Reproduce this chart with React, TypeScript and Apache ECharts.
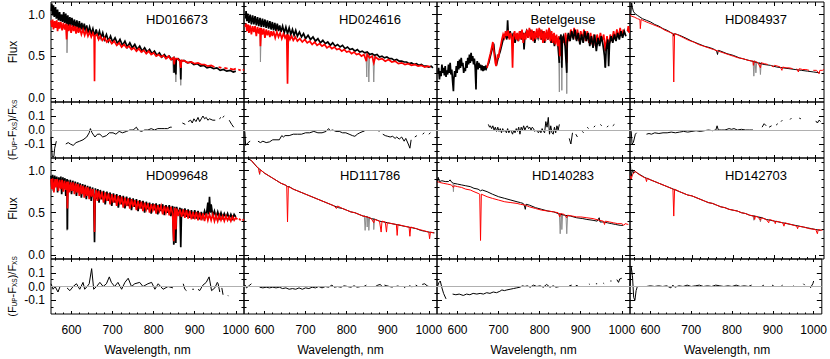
import React, { useEffect, useRef } from 'react';
import * as echarts from 'echarts';

const FONT = '"Liberation Sans", Arial, Helvetica, sans-serif';

// ---- axes ----
const X_MIN = 550;
const X_MAX = 1020;
const X_MAJOR = [600, 700, 800, 900, 1000];
const X_MINOR = [560, 580, 620, 640, 660, 680, 720, 740, 760, 780, 820, 840, 860, 880, 920, 940, 960, 980];
const FLUX_MIN = -0.05;
const FLUX_MAX = 1.15;
const FLUX_MAJOR = [0, 0.5, 1.0];
const FLUX_MINOR = [0.1, 0.2, 0.3, 0.4, 0.6, 0.7, 0.8, 0.9, 1.1];
const RES_MIN = -0.2;
const RES_MAX = 0.2;
const RES_MAJOR = [-0.1, 0, 0.1];
const RES_MINOR = [-0.15, -0.05, 0.05, 0.15];

const STARS = ['HD016673', 'HD024616', 'Betelgeuse', 'HD084937', 'HD099648', 'HD111786', 'HD140283', 'HD142703'];

// ---- HD016673 ----
const HD016673_GRAY = [[588,0.86],[589,0.54],[591,0.88],[592,'-'],[846,0.47],[848,0.30],[849,0.46],[850,'-'],[852,0.46],[854,0.19],[856,0.46],[857,'-'],[864,0.44],[866,0.15],[868,0.44]];
const HD016673_BLACK = [[551,1.04],[552,1.13],[554,0.99],[556,1.11],[558,0.97],[561,1.09],[563,0.95],[566,1.06],[568,0.93],[571,1.03],[573,0.92],[576,1.00],[578,0.91],[581,1.03],[583,0.90],[586,1.01],[588,0.88],[591,0.99],[593,0.86],[596,0.97],[598,0.86],[601,0.96],[604,0.85],[607,0.94],[610,0.84],[613,0.93],[616,0.82],[619,0.92],[622,0.81],[625,0.90],[628,0.80],[631,0.89],[634,0.79],[637,0.87],[640,0.78],[644,0.85],[648,0.77],[652,0.83],[656,0.74],[660,0.82],[664,0.74],[668,0.80],[672,0.72],[676,0.78],[680,0.70],[685,0.76],[690,0.68],[695,0.74],[700,0.67],[706,0.72],[712,0.65],[718,0.70],[724,0.63],[730,0.68],[736,0.61],[742,0.66],[748,0.60],[754,0.64],[760,0.58],[766,0.62],[772,0.56],[778,0.60],[784,0.55],[790,0.58],[796,0.53],[802,0.56],[808,0.51],[814,0.54],[820,0.49],[826,0.52],[832,0.48],[838,0.50],[844,0.46],[849,0.48],[850,0.30],[851,0.47],[854,0.28],[855,0.46],[860,0.47],[865,0.44],[866,0.22],[867,0.44],[874,0.45],[882,0.42],[890,0.43],[898,0.40],[906,0.41],[914,0.38],[922,0.39],[930,0.36],[938,0.37],[946,0.35],[954,0.36],[962,0.33],[970,0.34],[978,0.32],[986,0.33],[994,0.31],[1000,0.32]];
const HD016673_RED = [[550,0.93],[552,0.85],[554,0.94],[556,0.82],[559,0.92],[561,0.84],[564,0.93],[566,0.80],[569,0.91],[571,0.83],[574,0.91],[577,0.81],[580,0.90],[583,0.82],[586,0.89],[588,0.70],[590,0.88],[593,0.80],[596,0.88],[599,0.78],[602,0.87],[605,0.80],[608,0.86],[611,0.77],[614,0.85],[617,0.78],[620,0.84],[624,0.76],[628,0.82],[632,0.75],[636,0.81],[640,0.74],[644,0.79],[648,0.73],[652,0.78],[655,0.74],[656,0.20],[657,0.74],[662,0.76],[666,0.70],[670,0.74],[675,0.69],[680,0.72],[686,0.67],[692,0.70],[698,0.65],[704,0.68],[710,0.63],[716,0.66],[722,0.61],[728,0.64],[734,0.60],[740,0.62],[746,0.58],[752,0.60],[758,0.56],[764,0.59],[770,0.55],[776,0.57],[782,0.53],[788,0.56],[794,0.52],[800,0.54],[806,0.50],[812,0.52],[818,0.49],[824,0.51],[830,0.47],[836,0.50],[842,0.46],[848,0.48],[850,0.40],[852,0.47],[858,0.47],[864,0.44],[866,0.36],[868,0.45],[876,0.44],[884,0.42],[892,0.43],[900,0.41],[908,0.42],[916,0.40],[924,0.40],[932,0.38],[940,0.39],[948,0.37],[955,'-'],[958,0.37],[965,0.36],[968,'-'],[972,0.36],[980,0.35],[983,'-'],[986,0.35],[994,0.34],[1000,0.35],[1003,'-'],[1006,0.34],[1012,0.33],[1015,'-'],[1017,0.33],[1020,0.34]];
const HD016673_RES = [[550,-0.05],[553,-0.19],[557,-0.19],[559,-0.13],[563,-0.08],[564,'-'],[586,-0.1],[592,-0.09],[597,-0.1],[604,-0.11],[611,-0.09],[620,-0.08],[628,-0.07],[637,-0.05],[643,-0.02],[646,0.01],[650,-0.02],[657,-0.05],[663,-0.03],[669,-0.03],[676,-0.05],[685,-0.04],[692,-0.02],[701,-0.02],[708,-0.03],[716,-0.01],[724,-0.02],[734,-0.01],[742,0.0],[750,0.0],[758,0.02],[762,0.0],[770,-0.01],[778,0.0],[786,0.0],[794,0.01],[802,0.0],[810,0.01],[818,0.01],[826,0.01],[834,0.01],[840,0.02],[844,0.02],[845,'-'],[870,0.05],[877,0.04],[880,'-'],[884,0.06],[890,0.07],[894,0.05],[898,0.08],[903,0.06],[908,0.09],[912,0.06],[916,0.08],[920,0.1],[924,0.08],[928,0.09],[932,0.07],[936,0.08],[944,0.07],[950,0.07],[951,'-'],[960,0.08],[964,0.09],[965,'-'],[968,0.09],[972,0.1],[973,'-'],[984,0.07],[990,0.04],[995,0.02]];

// ---- HD024616 ----
const HD024616_GRAY = [[589,0.84],[590,0.43],[592,0.84],[593,'-'],[847,0.55],[849,0.25],[850,0.55],[851,'-'],[852,0.54],[854,0.19],[856,0.54],[857,'-'],[864,0.52],[866,0.19],[868,0.52]];
const HD024616_BLACK = [[554,0.95],[555,1.04],[557,0.92],[559,1.01],[562,0.90],[565,1.0],[568,0.88],[571,0.99],[574,0.88],[577,0.98],[580,0.87],[583,0.97],[586,0.86],[589,0.96],[592,0.85],[595,0.95],[598,0.85],[601,0.94],[604,0.84],[607,0.93],[610,0.83],[613,0.92],[616,0.82],[619,0.91],[622,0.81],[625,0.90],[628,0.80],[631,0.89],[634,0.80],[637,0.87],[640,0.79],[644,0.86],[648,0.78],[652,0.85],[656,0.77],[660,0.84],[664,0.76],[668,0.82],[672,0.75],[676,0.81],[680,0.74],[685,0.79],[690,0.73],[695,0.77],[700,0.71],[706,0.75],[712,0.70],[718,0.73],[724,0.68],[730,0.71],[736,0.66],[742,0.69],[748,0.65],[754,0.67],[760,0.63],[766,0.66],[772,0.62],[778,0.64],[784,0.61],[790,0.63],[796,0.59],[802,0.61],[808,0.58],[814,0.59],[820,0.56],[826,0.58],[832,0.55],[838,0.56],[844,0.54],[850,0.55],[856,0.52],[862,0.53],[868,0.51],[874,0.52],[880,0.49],[886,0.50],[892,0.48],[898,0.49],[904,0.47],[910,0.47],[916,0.45],[922,0.46],[928,0.44],[934,0.44],[940,0.43],[946,0.43],[952,0.41],[958,0.42],[964,0.40],[970,0.41],[976,0.39],[982,0.40],[988,0.38],[994,0.38],[1000,0.37],[1006,0.38],[1010,0.36]];
const HD024616_RED = [[553,0.85],[555,0.89],[557,0.80],[560,0.88],[562,0.78],[565,0.87],[568,0.76],[571,0.86],[574,0.79],[577,0.86],[580,0.74],[583,0.85],[586,0.77],[589,0.84],[590,0.62],[592,0.84],[595,0.76],[598,0.83],[601,0.72],[604,0.82],[607,0.75],[610,0.81],[613,0.73],[616,0.80],[619,0.74],[622,0.80],[626,0.72],[630,0.79],[634,0.73],[638,0.78],[642,0.71],[646,0.77],[650,0.72],[654,0.76],[656,0.17],[658,0.76],[662,0.70],[666,0.74],[670,0.69],[675,0.73],[680,0.68],[686,0.71],[692,0.67],[698,0.70],[704,0.66],[710,0.68],[716,0.64],[722,0.67],[728,0.63],[734,0.65],[740,0.62],[746,0.64],[752,0.60],[758,0.62],[764,0.59],[770,0.61],[776,0.58],[782,0.59],[788,0.56],[794,0.58],[800,0.55],[806,0.56],[812,0.53],[818,0.55],[824,0.52],[830,0.53],[836,0.50],[842,0.52],[848,0.44],[850,0.52],[856,0.48],[862,0.50],[866,0.42],[870,0.49],[878,0.46],[886,0.47],[894,0.44],[902,0.46],[910,0.43],[918,0.44],[926,0.41],[934,0.42],[942,0.40],[950,0.41],[958,0.39],[966,0.40],[974,0.38],[982,0.39],[990,0.37],[998,0.38],[1004,0.37]];
const HD024616_RES = [[552,-0.01],[554,-0.11],[557,-0.1],[560,-0.09],[565,-0.08],[566,'-'],[584,-0.08],[590,-0.09],[596,-0.08],[604,-0.09],[612,-0.085],[620,-0.07],[628,-0.07],[636,-0.07],[642,-0.04],[646,-0.05],[650,-0.04],[660,-0.04],[670,-0.03],[680,-0.03],[690,-0.03],[700,-0.02],[710,-0.02],[720,-0.01],[730,-0.02],[740,-0.02],[750,-0.01],[756,0.01],[760,-0.005],[766,0.0],[774,-0.01],[782,-0.01],[790,-0.02],[798,-0.02],[806,-0.03],[814,-0.04],[820,-0.045],[826,-0.03],[832,-0.02],[840,-0.01],[843,-0.01],[844,'-'],[878,-0.01],[881,-0.005],[882,'-'],[888,-0.03],[894,-0.04],[900,-0.045],[906,-0.05],[912,-0.045],[918,-0.06],[922,-0.05],[928,-0.065],[934,-0.05],[940,-0.08],[944,-0.06],[950,-0.1],[954,-0.13],[957,-0.07],[958,'-'],[966,-0.05],[971,-0.04],[972,'-'],[985,-0.03],[989,-0.02],[990,'-'],[1000,-0.03],[1004,-0.02]];

// ---- Betelgeuse ----
const BETELGEUSE_GRAY = [[846,0.66],[848,0.07],[849,0.66],[850,'-'],[853,0.70],[854,0.09],[855,0.70],[856,'-'],[865,0.62],[866,0.05],[867,0.62],[868,'-'],[957,0.60],[958,0.37],[959,0.60]];
const BETELGEUSE_BLACK = [[552,0.30],[554,0.36],[556,0.22],[558,0.32],[560,0.26],[562,0.40],[564,0.30],[566,0.36],[568,0.27],[570,0.38],[572,0.25],[574,0.33],[576,0.28],[578,0.40],[580,0.30],[582,0.42],[584,0.28],[586,0.34],[588,0.20],[590,0.08],[591,0.22],[593,0.32],[595,0.25],[597,0.38],[599,0.30],[601,0.44],[603,0.34],[605,0.46],[607,0.36],[609,0.48],[611,0.38],[613,0.42],[615,0.30],[617,0.36],[619,0.32],[621,0.44],[623,0.36],[625,0.48],[627,0.40],[629,0.52],[631,0.42],[633,0.54],[635,0.44],[637,0.50],[639,0.40],[641,0.47],[643,0.36],[645,0.10],[646,0.38],[648,0.44],[650,0.34],[652,0.42],[654,0.36],[656,0.40],[658,0.33],[660,0.39],[662,0.32],[664,0.38],[666,0.33],[668,0.37],[670,0.35],[672,0.38],[676,0.42],[680,0.50],[684,0.58],[688,0.65],[690,0.55],[692,0.48],[696,0.42],[700,0.50],[704,0.56],[708,0.64],[712,0.72],[716,0.76],[720,0.70],[722,0.93],[724,0.72],[728,0.80],[732,0.70],[736,0.78],[740,0.66],[744,0.76],[748,0.68],[752,0.80],[756,0.70],[760,0.78],[762,0.58],[764,0.74],[768,0.80],[772,0.72],[776,0.82],[780,0.70],[784,0.80],[788,0.66],[792,0.78],[796,0.72],[800,0.82],[804,0.70],[808,0.80],[812,0.66],[816,0.78],[820,0.70],[824,0.82],[828,0.66],[832,0.76],[836,0.62],[840,0.74],[844,0.66],[848,0.42]];
const BETELGEUSE_BLACK_TOP = [[849,0.70],[852,0.76],[854,0.36],[855,0.70],[858,0.74],[862,0.62],[866,0.30],[867,0.66],[870,0.78],[874,0.68],[878,0.80],[882,0.70],[886,0.82],[890,0.68],[894,0.78],[898,0.64],[902,0.76],[906,0.66],[910,0.80],[914,0.68],[918,0.78],[922,0.62],[926,0.74],[930,0.60],[934,0.76],[938,0.56],[942,0.72],[946,0.62],[950,0.74],[954,0.64],[958,0.50],[960,0.36],[962,0.58],[966,0.70],[968,0.38],[970,0.64],[974,0.74],[978,0.66],[982,0.76],[986,0.68],[990,0.78],[994,0.70],[998,0.80],[1002,0.72],[1006,0.80],[1010,0.74]];
const BETELGEUSE_RED = [[672,0.36],[676,0.45],[680,0.53],[683,0.60],[686,0.67],[688,0.58],[690,0.50],[692,0.42],[694,0.38],[696,0.46],[698,0.52],[700,0.48],[702,0.56],[705,0.62],[708,0.70],[711,0.76],[714,0.72],[717,0.80],[720,0.74],[723,0.81],[726,0.70],[729,0.78],[732,0.72],[734,0.36],[736,0.74],[739,0.80],[742,0.70],[745,0.78],[748,0.68],[751,0.80],[754,0.70],[757,0.82],[760,0.66],[763,0.78],[766,0.70],[769,0.82],[772,0.72],[775,0.84],[778,0.70],[781,0.82],[784,0.68],[787,0.80],[790,0.70],[793,0.83],[796,0.72],[799,0.84],[802,0.70],[805,0.82],[808,0.66],[811,0.80],[814,0.68],[817,0.82],[820,0.70],[823,0.84],[826,0.68],[829,0.80],[832,0.66],[835,0.78],[838,0.64],[841,0.76],[844,0.62],[847,0.74],[849,0.50],[851,0.72],[854,0.45],[856,0.74],[860,0.66],[863,0.78],[866,0.42],[868,0.76],[872,0.68],[876,0.82],[880,0.72],[884,0.84],[888,0.70],[892,0.82],[896,0.68],[900,0.80],[904,0.70],[908,0.82],[912,0.68],[916,0.80],[920,0.66],[924,0.78],[928,0.64],[932,0.76],[936,0.62],[940,0.76],[944,0.66],[948,0.78],[952,0.68],[956,0.76],[960,0.56],[964,0.74],[968,0.60],[972,0.76],[976,0.68],[980,0.80],[984,0.70],[988,0.82],[992,0.72],[996,0.84],[1000,0.74],[1004,0.82],[1008,'-'],[1014,0.80],[1016,0.86],[1018,0.78]];
const BETELGEUSE_RES = [[675,0.04],[678,0.02],[680,0.03],[683,0.01],[686,0.03],[689,0.0],[692,0.02],[695,-0.01],[698,0.02],[701,-0.01],[704,0.01],[707,-0.02],[710,0.01],[713,-0.01],[716,0.0],[719,-0.02],[722,0.01],[725,-0.02],[728,0.0],[731,-0.01],[734,-0.03],[737,0.0],[740,-0.02],[743,0.01],[746,-0.01],[749,0.02],[752,-0.03],[755,0.02],[758,0.0],[761,0.03],[764,0.0],[767,0.02],[770,0.03],[773,0.01],[776,0.02],[779,0.0],[782,0.02],[785,0.01],[788,-0.01],[791,0.0],[794,-0.01],[797,-0.02],[800,0.0],[803,-0.02],[806,0.01],[809,-0.01],[812,-0.02],[815,0.06],[818,0.02],[821,0.09],[824,-0.03],[827,0.03],[830,-0.02],[833,-0.03],[836,0.02],[839,-0.02],[842,0.03],[845,0.0],[848,0.04],[849,'-'],[872,-0.06],[876,-0.1],[880,-0.02],[881,'-'],[888,-0.03],[892,-0.05],[893,'-'],[904,-0.01],[907,-0.02],[908,'-'],[916,0.02],[919,0.01],[920,'-'],[932,0.02],[935,0.03],[936,'-'],[948,0.04],[951,0.03],[952,'-'],[964,0.02],[967,0.03],[968,'-'],[978,0.03],[982,0.04]];

// ---- HD084937 ----
const HD084937_GRAY = [[848,0.45],[850,0.26],[852,0.45],[853,'-'],[853,0.44],[855,0.30],[857,0.44],[858,'-'],[864,0.43],[866,0.28],[868,0.43]];
const HD084937_BLACK = [[552,1.0],[554,1.14],[556,1.08],[558,1.04],[562,1.01],[568,0.99],[574,0.97],[580,0.95],[590,0.93],[600,0.91],[610,0.88],[620,0.86],[630,0.83],[640,0.81],[650,0.78],[655,0.77],[656,0.74],[658,0.77],[665,0.76],[675,0.74],[688,0.71],[700,0.68],[715,0.65],[730,0.62],[745,0.60],[755,0.58],[760,0.56],[762,0.52],[764,0.57],[770,0.56],[785,0.53],[800,0.51],[815,0.48],[830,0.46],[845,0.44],[860,0.42],[875,0.40],[890,0.39],[905,0.37],[920,0.36],[935,0.35],[950,0.34],[965,0.33],[980,0.32],[995,0.31],[1010,0.30]];
const HD084937_RED = [[550,1.0],[553,0.98],[560,0.97],[568,0.95],[574,0.94],[575,0.83],[577,0.94],[585,0.92],[595,0.90],[605,0.88],[615,0.86],[625,0.84],[635,0.81],[645,0.79],[654,0.77],[656,0.19],[658,0.77],[668,0.75],[680,0.72],[692,0.69],[704,0.67],[716,0.64],[728,0.62],[740,0.60],[752,0.58],[764,0.56],[776,0.54],[788,0.52],[800,0.50],[812,0.48],[824,0.47],[836,0.45],[848,0.44],[849,0.39],[851,0.44],[860,0.42],[866,0.36],[868,0.42],[876,0.41],[884,0.40],[888,'-'],[892,0.39],[897,0.37],[900,0.39],[908,0.38],[914,0.37],[918,0.33],[920,0.37],[928,0.36],[936,0.36],[944,0.35],[950,'-'],[954,0.35],[958,0.31],[960,0.35],[968,0.34],[976,0.34],[984,0.33],[990,'-'],[994,0.33],[1002,0.33],[1008,0.29],[1010,0.33],[1016,0.33],[1020,0.34]];
const HD084937_RES = [[551,0.0],[553,-0.01],[555,-0.1],[558,-0.09],[563,-0.03],[566,-0.02],[567,'-'],[590,-0.03],[596,-0.025],[602,-0.03],[610,-0.02],[620,-0.025],[630,-0.02],[640,-0.02],[650,-0.015],[660,-0.02],[670,-0.015],[680,-0.01],[690,-0.015],[700,-0.01],[710,-0.005],[720,-0.01],[730,-0.005],[740,0.0],[750,-0.005],[758,0.0],[761,0.03],[764,0.0],[772,0.0],[780,0.0],[790,0.01],[796,0.005],[802,0.01],[810,0.0],[820,0.005],[830,0.0],[840,0.0],[848,0.0],[849,'-'],[870,0.02],[875,0.045],[880,0.03],[881,'-'],[887,0.02],[893,0.03],[894,'-'],[904,0.035],[908,0.045],[909,'-'],[916,0.06],[919,0.07],[920,'-'],[938,0.075],[941,0.085],[942,'-'],[960,0.085],[964,0.08],[965,'-'],[1000,0.065],[1004,0.05],[1008,0.07],[1012,0.06]];

// ---- HD099648 ----
const HD099648_GRAY = [[588,0.80],[589,0.29],[590,0.80],[591,'-'],[848,0.50],[850,0.13],[852,0.50]];
const HD099648_BLACK = [[550,0.94],[552,0.80],[554,0.95],[556,0.76],[559,0.94],[561,0.82],[564,0.93],[566,0.74],[569,0.92],[571,0.80],[574,0.93],[576,0.72],[579,0.92],[581,0.79],[584,0.91],[586,0.70],[589,0.90],[590,0.30],[591,0.89],[594,0.75],[597,0.89],[600,0.72],[603,0.88],[606,0.76],[609,0.87],[612,0.70],[615,0.86],[618,0.74],[621,0.85],[624,0.68],[627,0.84],[630,0.72],[633,0.83],[636,0.66],[639,0.82],[642,0.70],[645,0.81],[648,0.64],[651,0.80],[654,0.68],[656,0.15],[658,0.79],[661,0.66],[664,0.78],[667,0.62],[670,0.77],[674,0.66],[678,0.76],[682,0.60],[686,0.75],[690,0.64],[694,0.74],[698,0.58],[702,0.73],[706,0.62],[710,0.72],[714,0.56],[718,0.71],[722,0.60],[726,0.70],[730,0.55],[734,0.69],[738,0.58],[742,0.68],[746,0.53],[750,0.67],[754,0.57],[758,0.66],[762,0.52],[766,0.65],[770,0.55],[774,0.64],[778,0.50],[782,0.63],[786,0.54],[790,0.62],[794,0.49],[798,0.61],[802,0.53],[806,0.61],[810,0.48],[814,0.60],[818,0.52],[822,0.60],[826,0.47],[830,0.59],[834,0.50],[838,0.59],[842,0.46],[846,0.58],[849,0.12],[851,0.57],[854,0.14],[856,0.57],[860,0.48],[864,0.56],[866,0.09],[868,0.55],[872,0.46],[876,0.55],[880,0.45],[884,0.54],[888,0.44],[892,0.53],[896,0.43],[900,0.53],[904,0.43],[908,0.52],[912,0.42],[916,0.51],[920,0.44],[924,0.52],[928,0.45],[932,0.62],[934,0.48],[936,0.69],[938,0.50],[940,0.60],[944,0.46],[948,0.52],[952,0.44],[956,0.51],[960,0.44],[964,0.50],[968,0.44],[972,0.49],[976,0.44],[980,0.49],[984,0.43],[988,0.48],[992,0.43],[996,0.48],[1000,0.45]];
const HD099648_RED = [[550,0.90],[552,0.78],[554,0.91],[557,0.74],[560,0.90],[562,0.80],[565,0.90],[568,0.76],[571,0.89],[574,0.78],[577,0.89],[580,0.75],[583,0.88],[586,0.77],[589,0.87],[590,0.55],[592,0.87],[595,0.74],[598,0.86],[601,0.76],[604,0.86],[607,0.72],[610,0.85],[613,0.74],[616,0.84],[619,0.70],[622,0.83],[625,0.72],[628,0.82],[631,0.68],[634,0.81],[637,0.70],[640,0.80],[643,0.66],[646,0.79],[649,0.69],[652,0.78],[655,0.66],[656,0.27],[657,0.66],[660,0.77],[663,0.64],[666,0.76],[670,0.66],[674,0.75],[678,0.62],[682,0.74],[686,0.64],[690,0.73],[694,0.60],[698,0.72],[702,0.62],[706,0.71],[710,0.58],[714,0.70],[718,0.60],[722,0.69],[726,0.56],[730,0.68],[734,0.58],[738,0.67],[742,0.55],[746,0.66],[750,0.57],[754,0.65],[758,0.53],[762,0.64],[766,0.55],[770,0.63],[774,0.52],[778,0.62],[782,0.54],[786,0.61],[790,0.50],[794,0.60],[798,0.53],[802,0.60],[806,0.49],[810,0.59],[814,0.52],[818,0.58],[822,0.48],[826,0.58],[830,0.50],[834,0.57],[838,0.47],[842,0.57],[846,0.49],[849,0.16],[851,0.56],[854,0.30],[856,0.55],[860,0.46],[864,0.54],[868,0.45],[872,0.54],[876,0.44],[880,0.53],[884,0.43],[888,0.52],[892,0.42],[896,0.51],[900,0.42],[904,0.51],[908,0.41],[912,0.50],[916,0.41],[920,0.49],[924,0.40],[928,0.49],[932,0.41],[936,0.48],[940,0.41],[944,0.48],[948,0.40],[952,0.47],[956,0.40],[960,0.47],[964,0.41],[968,0.46],[972,0.40],[976,0.46],[980,0.41],[984,0.45],[988,0.40],[992,0.45],[996,0.41],[1000,0.44],[1004,0.42],[1006,'-'],[1008,0.43],[1012,0.41],[1014,'-'],[1016,0.42],[1020,0.41]];
const HD099648_RES = [[550,0.02],[555,-0.02],[560,0.0],[567,-0.04],[572,0.0],[573,'-'],[589,-0.01],[596,-0.03],[604,0.0],[612,0.02],[620,-0.02],[628,0.03],[632,-0.02],[638,0.0],[643,0.02],[649,0.13],[654,-0.02],[661,0.0],[669,0.03],[677,0.0],[685,0.02],[692,0.07],[697,0.03],[705,0.0],[713,0.03],[722,-0.02],[730,0.03],[738,0.06],[746,0.0],[754,0.02],[766,0.03],[774,0.0],[786,0.02],[795,0.03],[803,-0.02],[811,0.02],[823,-0.02],[835,0.0],[847,-0.01],[848,'-'],[872,0.02],[876,-0.02],[880,-0.03],[881,'-'],[894,-0.02],[898,-0.02],[899,'-'],[908,-0.02],[912,-0.03],[920,0.01],[928,0.03],[935,0.07],[941,-0.03],[949,-0.01],[955,0.03],[957,0.02],[961,-0.04],[962,'-'],[966,-0.01],[969,-0.06],[970,'-'],[981,-0.065],[982,-0.07]];

// ---- HD111786 ----
const HD111786_GRAY = [[587,1.0],[588,0.95],[589,1.0],[590,'-'],[843,0.47],[845,0.29],[847,0.46],[848,'-'],[849,0.46],[850,0.33],[851,0.45],[852,'-'],[853,0.45],[854,0.29],[856,0.45],[857,'-'],[865,0.43],[866,0.30],[868,0.43]];
const HD111786_BLACK = [[560,1.14],[568,1.12],[575,1.08],[582,1.04],[590,1.01],[600,0.97],[610,0.94],[620,0.91],[630,0.88],[640,0.85],[650,0.83],[656,0.81],[660,0.81],[670,0.78],[680,0.76],[690,0.74],[700,0.72],[710,0.70],[720,0.68],[730,0.66],[740,0.64],[750,0.62],[760,0.60],[770,0.58],[780,0.56],[790,0.55],[800,0.53],[810,0.51],[820,0.50],[830,0.48],[840,0.46],[850,0.45],[860,0.43],[870,0.42],[880,0.40],[890,0.39],[900,0.38],[910,0.37],[920,0.36],[930,0.35],[940,0.34],[950,0.33],[960,0.32],[970,0.31],[980,0.29],[990,0.28],[1000,0.27],[1014,0.26]];
const HD111786_RED = [[566,1.13],[575,1.08],[585,1.03],[588,0.96],[590,1.01],[600,0.97],[610,0.94],[620,0.91],[630,0.88],[640,0.85],[650,0.83],[654,0.82],[656,0.39],[658,0.81],[670,0.78],[680,0.76],[690,0.74],[700,0.72],[710,0.70],[720,0.68],[730,0.66],[740,0.64],[750,0.62],[760,0.60],[770,0.58],[775,0.55],[778,0.58],[790,0.55],[800,0.53],[810,0.51],[820,0.50],[830,0.48],[840,0.46],[850,0.45],[860,0.43],[866,0.38],[868,0.42],[880,0.40],[884,0.27],[886,0.40],[894,0.39],[897,0.27],[899,0.38],[910,0.37],[921,0.36],[923,0.23],[925,0.36],[940,0.34],[952,0.33],[954,0.22],[956,0.33],[970,0.31],[985,0.29],[1000,0.27],[1002,0.19],[1004,0.27],[1012,0.26]];
const HD111786_RES = [[550,0.0],[553,0.01],[556,-0.01],[560,0.0],[564,0.01],[568,0.02],[569,'-'],[588,-0.005],[596,-0.01],[604,-0.005],[612,-0.01],[620,-0.005],[628,-0.01],[636,-0.005],[644,-0.015],[652,-0.01],[660,-0.02],[668,-0.015],[676,-0.02],[684,-0.01],[692,-0.02],[700,-0.01],[708,-0.015],[716,-0.005],[724,-0.01],[732,0.0],[740,-0.01],[748,0.0],[756,-0.005],[764,0.01],[770,-0.005],[778,0.0],[786,-0.005],[794,0.005],[802,0.0],[810,-0.005],[818,0.005],[826,-0.005],[834,0.0],[842,0.0],[848,0.01],[849,'-'],[870,0.0],[876,0.01],[882,0.015],[886,0.0],[887,'-'],[892,0.01],[898,0.005],[904,0.0],[912,-0.005],[913,'-'],[920,0.0],[926,0.005],[927,'-'],[940,-0.01],[944,0.0],[945,'-'],[953,0.01],[958,-0.005],[959,'-'],[968,0.01],[972,0.005],[973,'-'],[984,0.015],[990,0.02],[996,0.005],[1000,0.0]];

// ---- HD140283 ----
const HD140283_GRAY = [[589,0.84],[590,0.75],[591,0.84],[592,'-'],[848,0.49],[850,0.25],[852,0.49],[853,'-'],[853,0.49],[854,0.30],[856,0.48],[857,'-'],[864,0.47],[866,0.25],[868,0.47]];
const HD140283_BLACK = [[551,0.86],[553,0.92],[556,0.87],[562,0.88],[570,0.87],[578,0.87],[582,0.89],[586,0.86],[590,0.85],[600,0.84],[610,0.83],[620,0.82],[631,0.81],[640,0.79],[650,0.78],[656,0.76],[660,0.77],[672,0.75],[685,0.72],[700,0.69],[715,0.67],[730,0.65],[745,0.63],[753,0.62],[760,0.61],[763,0.58],[765,0.54],[767,0.60],[775,0.59],[790,0.56],[805,0.54],[820,0.52],[834,0.51],[845,0.49],[860,0.47],[875,0.46],[890,0.44],[905,0.43],[915,0.42],[930,0.41],[940,0.40],[945,0.44],[947,0.39],[955,0.39],[965,0.38],[975,0.37],[985,0.36],[996,0.35],[1003,0.35]];
const HD140283_RED = [[551,0.87],[556,0.86],[565,0.85],[575,0.84],[585,0.83],[590,0.80],[592,0.82],[600,0.81],[610,0.80],[620,0.78],[631,0.77],[640,0.75],[650,0.73],[654,0.72],[656,0.17],[658,0.72],[672,0.69],[685,0.67],[700,0.65],[715,0.63],[730,0.62],[745,0.61],[753,0.60],[765,0.59],[775,0.57],[790,0.55],[805,0.53],[820,0.52],[834,0.51],[845,0.50],[849,0.45],[851,0.49],[860,0.48],[866,0.44],[868,0.47],[880,0.46],[890,0.45],[900,0.45],[915,0.44],[930,0.43],[945,0.41],[955,0.40],[958,0.36],[960,0.40],[970,0.39],[980,0.38],[990,0.37],[1000,0.37],[1005,0.35],[1008,0.37],[1016,0.36]];
const HD140283_RES = [[551,0.0],[555,0.03],[558,0.04],[562,-0.01],[566,-0.05],[572,-0.09],[573,'-'],[588,-0.055],[596,-0.06],[604,-0.055],[614,-0.065],[622,-0.055],[630,-0.06],[638,-0.05],[647,-0.055],[655,-0.05],[663,-0.055],[671,-0.045],[679,-0.05],[687,-0.04],[695,-0.045],[703,-0.035],[708,-0.025],[714,-0.03],[720,-0.025],[728,-0.02],[736,-0.015],[744,-0.01],[752,-0.005],[758,0.005],[764,0.0],[770,0.005],[777,-0.005],[785,0.01],[793,0.0],[801,0.005],[809,-0.005],[817,0.015],[825,-0.005],[833,0.005],[840,-0.005],[848,0.0],[849,'-'],[872,0.005],[878,0.01],[879,'-'],[888,0.008],[893,0.005],[894,'-'],[905,0.01],[906,'-'],[920,0.02],[922,0.015],[923,'-'],[937,0.02],[940,0.02],[941,'-'],[955,0.025],[957,0.02],[958,'-'],[972,0.04],[975,0.04],[976,'-'],[988,0.05],[992,0.03],[995,0.055],[1000,0.06]];

// ---- HD142703 ----
const HD142703_GRAY = [[848,0.47],[850,0.41],[852,0.47],[853,'-'],[864,0.45],[866,0.39],[868,0.45]];
const HD142703_BLACK = [[551,1.08],[553,0.93],[556,1.01],[559,0.97],[562,0.99],[568,0.97],[575,0.95],[585,0.92],[590,0.91],[600,0.89],[610,0.87],[620,0.85],[630,0.83],[640,0.81],[650,0.79],[660,0.77],[670,0.75],[680,0.73],[690,0.71],[700,0.70],[710,0.68],[720,0.66],[730,0.64],[740,0.62],[750,0.61],[760,0.59],[770,0.57],[780,0.56],[790,0.54],[800,0.53],[810,0.52],[820,0.50],[830,0.49],[840,0.47],[850,0.46],[860,0.45],[870,0.44],[880,0.42],[890,0.41],[900,0.40],[910,0.39],[920,0.38],[930,0.37],[940,0.36],[950,0.35],[960,0.34],[970,0.33],[980,0.32],[990,0.31],[1000,0.30],[1012,0.29]];
const HD142703_RED = [[550,0.94],[553,0.90],[556,0.95],[560,0.98],[564,0.99],[570,0.96],[580,0.93],[588,0.91],[590,0.87],[592,0.91],[600,0.89],[610,0.87],[620,0.85],[630,0.83],[640,0.81],[650,0.79],[654,0.78],[656,0.46],[658,0.78],[670,0.75],[680,0.73],[690,0.71],[700,0.70],[710,0.68],[720,0.66],[730,0.64],[740,0.62],[750,0.61],[760,0.59],[770,0.57],[780,0.56],[790,0.54],[800,0.53],[810,0.52],[820,0.50],[830,0.49],[840,0.47],[850,0.46],[852,0.42],[854,0.46],[860,0.45],[866,0.41],[868,0.44],[880,0.42],[886,0.38],[888,0.42],[900,0.40],[902,0.37],[904,0.40],[920,0.38],[923,0.34],[925,0.38],[940,0.36],[954,0.34],[956,0.31],[958,0.34],[970,0.33],[985,0.31],[1000,0.30],[1004,0.25],[1006,0.30],[1016,0.29]];
const HD142703_RES = [[550,0.0],[553,0.14],[556,0.08],[559,-0.08],[562,-0.1],[565,-0.03],[568,0.0],[569,'-'],[590,0.0],[600,0.005],[610,0.0],[620,0.005],[630,0.0],[640,0.005],[650,-0.01],[655,0.01],[660,-0.005],[670,0.005],[680,0.0],[690,0.01],[700,0.0],[710,0.005],[720,0.01],[730,0.0],[740,0.005],[750,0.0],[760,0.01],[770,0.005],[780,0.0],[790,0.005],[800,0.0],[810,0.01],[820,0.0],[830,0.005],[840,0.0],[848,0.01],[849,'-'],[872,0.0],[878,0.01],[879,'-'],[898,0.01],[902,0.005],[903,'-'],[920,0.0],[924,0.01],[925,'-'],[950,0.005],[953,0.0],[954,'-'],[975,0.02],[978,0.01],[979,'-'],[992,-0.01],[998,0.02],[1000,0.04]];

const PANELS = [
  { gray: HD016673_GRAY, black: HD016673_BLACK, red: HD016673_RED, blackTop: null, res: HD016673_RES, dense: true },
  { gray: HD024616_GRAY, black: HD024616_BLACK, red: HD024616_RED, blackTop: null, res: HD024616_RES, dense: true },
  { gray: BETELGEUSE_GRAY, black: BETELGEUSE_BLACK, red: BETELGEUSE_RED, blackTop: BETELGEUSE_BLACK_TOP, res: BETELGEUSE_RES, dense: true },
  { gray: HD084937_GRAY, black: HD084937_BLACK, red: HD084937_RED, blackTop: null, res: HD084937_RES, dense: false },
  { gray: HD099648_GRAY, black: HD099648_BLACK, red: HD099648_RED, blackTop: null, res: HD099648_RES, dense: true },
  { gray: HD111786_GRAY, black: HD111786_BLACK, red: HD111786_RED, blackTop: null, res: HD111786_RES, dense: false },
  { gray: HD140283_GRAY, black: HD140283_BLACK, red: HD140283_RED, blackTop: null, res: HD140283_RES, dense: false },
  { gray: HD142703_GRAY, black: HD142703_BLACK, red: HD142703_RED, blackTop: null, res: HD142703_RES, dense: false },
];

// ---- layout (pixels) ----
const COL_EDGES = [51, 244, 437, 630, 824];
const MAIN_ROWS = [[2, 102], [158, 259]];
const RES_ROWS = [[102, 158], [259, 314]];

function xAx(gridIndex: number, position: string, values: number[], len: number, labels: boolean) {
  return {
    type: 'value', gridIndex, position, min: X_MIN, max: X_MAX,
    axisLine: { show: false, onZero: false },
    splitLine: { show: false },
    axisTick: { show: true, inside: true, length: len, customValues: values, lineStyle: { color: '#000', width: 1 } },
    axisLabel: labels
      ? { show: true, customValues: X_MAJOR, margin: 10, color: '#000', fontSize: 12, fontFamily: FONT, formatter: (v: number) => String(Math.round(v)) }
      : { show: false },
  };
}

function yAx(gridIndex: number, position: string, mn: number, mx: number, values: number[], len: number, labels: number[] | null) {
  return {
    type: 'value', gridIndex, position, min: mn, max: mx,
    axisLine: { show: false, onZero: false },
    splitLine: { show: false },
    axisTick: { show: true, inside: true, length: len, customValues: values, lineStyle: { color: '#000', width: 1 } },
    axisLabel: labels
      ? { show: true, customValues: labels, margin: 6, color: '#000', fontSize: 12, fontFamily: FONT, formatter: (v: number) => v.toFixed(1) }
      : { show: false },
  };
}

function lineSeries(xi: number, yi: number, data: any[], color: string, width: number, extra: any = {}) {
  return {
    type: 'line', xAxisIndex: xi, yAxisIndex: yi, data,
    showSymbol: false, symbol: 'none', connectNulls: false, silent: true, animation: false,
    lineStyle: { color, width, join: 'miter' }, itemStyle: { color },
    ...extra,
  };
}

function buildOption() {
  const grid: any[] = [];
  const xAxis: any[] = [];
  const yAxis: any[] = [];
  const series: any[] = [];
  const graphic: any[] = [];

  PANELS.forEach((p, i) => {
    const r = Math.floor(i / 4);
    const c = i % 4;
    const left = COL_EDGES[c];
    const width = COL_EDGES[c + 1] - COL_EDGES[c];
    [true, false].forEach((isMain) => {
      const g = grid.length;
      const [top, bottom] = isMain ? MAIN_ROWS[r] : RES_ROWS[r];
      grid.push({ left, top, width, height: bottom - top, show: true, borderColor: '#000', borderWidth: 1, backgroundColor: 'transparent' });
      const xLen = isMain ? 4 : 3;
      const showX = !isMain && r === 1;
      xAxis.push(
        xAx(g, 'bottom', X_MAJOR, xLen, showX),
        xAx(g, 'bottom', X_MINOR, xLen / 2, false),
        xAx(g, 'top', X_MAJOR, xLen, false),
        xAx(g, 'top', X_MINOR, xLen / 2, false),
      );
      const mn = isMain ? FLUX_MIN : RES_MIN;
      const mx = isMain ? FLUX_MAX : RES_MAX;
      const maj = isMain ? FLUX_MAJOR : RES_MAJOR;
      const mnr = isMain ? FLUX_MINOR : RES_MINOR;
      yAxis.push(
        yAx(g, 'left', mn, mx, maj, 5, c === 0 ? maj : null),
        yAx(g, 'left', mn, mx, mnr, 2.5, null),
        yAx(g, 'right', mn, mx, maj, 5, null),
        yAx(g, 'right', mn, mx, mnr, 2.5, null),
      );
      const ai = g * 4;
      if (isMain) {
        const w = p.dense ? 1.7 : 1;
        series.push(lineSeries(ai, ai, p.gray, '#8e8e8e', 1));
        series.push(lineSeries(ai, ai, p.black, '#000000', w));
        series.push(lineSeries(ai, ai, p.red, '#ff0000', w));
        if (p.blackTop) series.push(lineSeries(ai, ai, p.blackTop, '#000000', w));
        graphic.push({
          type: 'text', x: left + 126, y: top + 17, silent: true,
          style: { text: STARS[i], fill: '#000', font: `13px ${FONT}`, align: 'center', verticalAlign: 'middle', textAlign: 'center', textVerticalAlign: 'middle' },
        });
      } else {
        series.push(lineSeries(ai, ai, p.res, '#000000', 1, {
          markLine: {
            silent: true, symbol: ['none', 'none'], animation: false,
            label: { show: false },
            lineStyle: { color: '#b0b0b0', type: 'solid', width: 1 },
            data: [{ yAxis: 0 }],
          },
        }));
      }
    });
  });

  // axis titles
  [0, 1].forEach((r) => {
    const [mt, mb] = MAIN_ROWS[r];
    const [rt, rb] = RES_ROWS[r];
    graphic.push({
      type: 'text', x: 12.5, y: (mt + mb) / 2, rotation: Math.PI / 2, silent: true,
      style: { text: 'Flux', fill: '#000', font: `12px ${FONT}`, align: 'center', verticalAlign: 'middle', textAlign: 'center', textVerticalAlign: 'middle' },
    });
    graphic.push({
      type: 'text', x: 12, y: (rt + rb) / 2, rotation: Math.PI / 2, silent: true,
      style: {
        text: '(F{s|UP}-F{s|XS})/F{s|XS}',
        fill: '#000', fontSize: 11, fontFamily: FONT,
        align: 'center', verticalAlign: 'middle', textAlign: 'center', textVerticalAlign: 'middle',
        rich: { s: { fontSize: 6.5, fontFamily: FONT, fill: '#000', verticalAlign: 'bottom', padding: [4, 0, 0, 0] } },
      },
    });
  });
  for (let c = 0; c < 4; c++) {
    graphic.push({
      type: 'text', x: (COL_EDGES[c] + COL_EDGES[c + 1]) / 2, y: 350, silent: true,
      style: { text: 'Wavelength, nm', fill: '#000', font: `12px ${FONT}`, align: 'center', verticalAlign: 'middle', textAlign: 'center', textVerticalAlign: 'middle' },
    });
  }

  return { animation: false, backgroundColor: '#ffffff', grid, xAxis, yAxis, series, graphic };
}

export default function App() {
  const ref = useRef<HTMLDivElement>(null);
  useEffect(() => {
    if (!ref.current) return;
    const chart = echarts.init(ref.current, null, { renderer: 'svg' });
    chart.setOption(buildOption() as any);
    return () => chart.dispose();
  }, []);
  return <div ref={ref} style={{ position: 'absolute', left: 0, top: 0, width: 830, height: 359, background: '#fff' }} />;
}
